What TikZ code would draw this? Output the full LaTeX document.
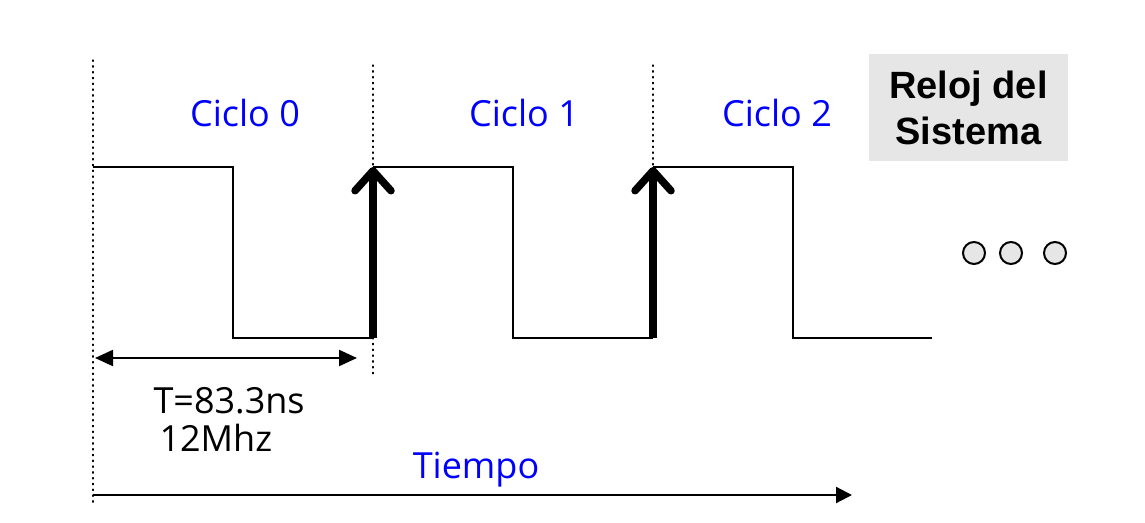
\documentclass[tikz,border=0pt]{standalone}
\usepackage{fontspec}
\setmainfont{Open Sans}
\newfontfamily\boldarial{Liberation Sans}
\usetikzlibrary{arrows.meta}
\definecolor{boxgray}{HTML}{E6E6E6}
\definecolor{lblue}{HTML}{0000FF}
\tikzset{
  dotline/.style={line width=1.3pt, dash pattern=on 1.3pt off 4.5pt, line cap=round},
  wave/.style={line width=2.8pt},
  edgearrow/.style={line width=7.5pt, -{Straight Barb[length=20pt,width=36pt,line width=7.5pt,round]}},
  dim/.style={line width=2.2pt, {Triangle[length=18pt,width=16pt]}-{Triangle[length=18pt,width=16pt]}},
  timearrow/.style={line width=2.2pt, -{Triangle[length=16pt,width=16pt]}},
  cyc/.style={text=lblue, font=\fontsize{36}{42}\selectfont},
  lbl/.style={font=\fontsize{36}{42}\selectfont},
  dot3/.style={circle, draw, line width=2pt, fill=boxgray, minimum size=22pt, inner sep=0pt},
}
\begin{document}
\begin{tikzpicture}[x=1pt,y=-1pt]
\useasboundingbox (0,0) rectangle (1145,522);
% dotted guides
\coordinate (d0t) at (93,60); \coordinate (d0b) at (93,505);
\coordinate (d1t) at (373,65); \coordinate (d1b) at (373,378);
\coordinate (d2t) at (653,65); \coordinate (d2b) at (653,167);
\draw[dotline] (d0t) -- (d0b);
\draw[dotline] (d1t) -- (d1b);
\draw[dotline] (d2t) -- (d2b);
% waveform
\coordinate (w0) at (93,167);
\coordinate (w1) at (233,167);
\coordinate (w2) at (233,338);
\coordinate (w3) at (373,338);
\coordinate (w4) at (373,167);
\coordinate (w5) at (513,167);
\coordinate (w6) at (513,338);
\coordinate (w7) at (653,338);
\coordinate (w8) at (653,167);
\coordinate (w9) at (793,167);
\coordinate (w10) at (793,338);
\coordinate (w11) at (932,338);
\draw[wave] (w0) -- (w1) -- (w2) -- (w3);
\draw[wave] (w4) -- (w5) -- (w6) -- (w7);
\draw[wave] (w8) -- (w9) -- (w10) -- (w11);
\draw[edgearrow] (w3) -- (w4);
\draw[edgearrow] (w7) -- (w8);
% labels
\node[cyc] (c0) at (245,113) {Ciclo 0};
\node[cyc] (c1) at (524,113) {Ciclo 1};
\node[cyc] (c2) at (777,113) {Ciclo 2};
% period
\coordinate (pa) at (95,358); \coordinate (pb) at (357,358);
\draw[dim] (pa) -- (pb);
\node[lbl, anchor=west] (t) at (150,401) {T=83.3ns};
\node[lbl, anchor=west] (f) at (156,438) {12Mhz};
% time
\node[cyc] (tiempo) at (476,470) {Tiempo};
\coordinate (ta) at (93,495); \coordinate (tb) at (852,495);
\draw[timearrow] (ta) -- (tb);
% box
\node[fill=boxgray, minimum width=199pt, minimum height=107pt, inner sep=0pt, align=center,
  font=\boldarial\bfseries\fontsize{38}{46}\selectfont] (box) at (968.5,107.5) {Reloj del\\Sistema};
% dots
\node[dot3] (e1) at (974,253) {};
\node[dot3] (e2) at (1011,253) {};
\node[dot3] (e3) at (1055,253) {};
\end{tikzpicture}
\end{document}
